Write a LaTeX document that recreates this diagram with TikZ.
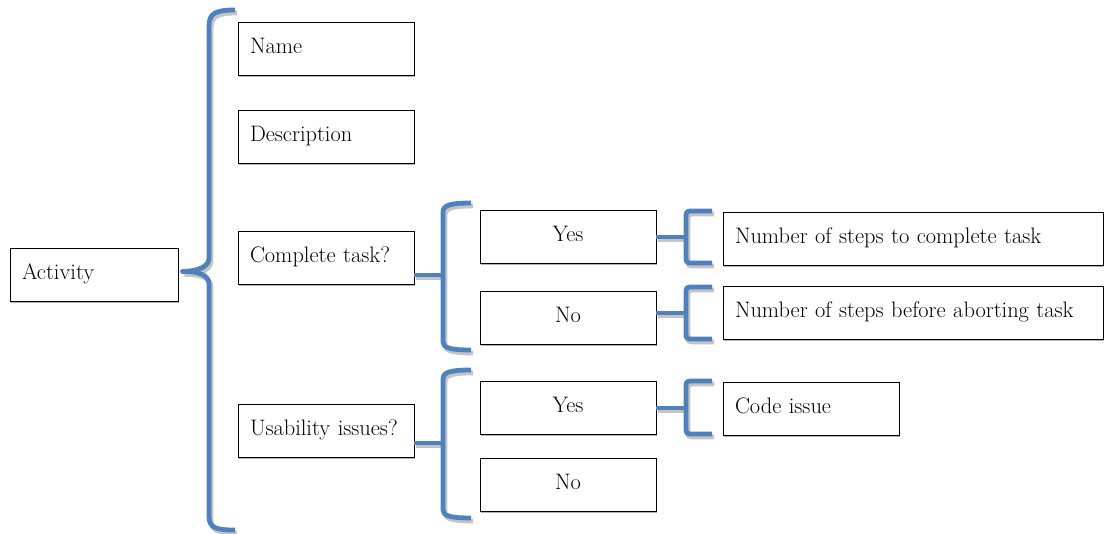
\documentclass[tikz,border=0pt]{standalone}
\usetikzlibrary{shadows}
\definecolor{bblue}{RGB}{79,129,189}
\definecolor{bshadow}{RGB}{196,196,196}
\begin{document}
\begin{tikzpicture}[x=1pt,y=-1pt,
  box/.style={draw, fill=white, line width=0.9pt, minimum height=53pt, inner ysep=0pt,
    font=\fontsize{22.4}{26}\selectfont, text height=14pt, text depth=4.5pt,
    drop shadow={shadow xshift=1pt, shadow yshift=-1.5pt, fill=black!30, opacity=1}},
  lbox/.style={box, inner xsep=12pt, align=left},
  cbox/.style={box, inner xsep=0pt, minimum width=176pt, align=center},
  brace/.style={draw=bblue, line width=4.8pt, line cap=butt, line join=round,
    preaction={draw=bshadow, line width=4.8pt, transform canvas={shift={(2pt,-3pt)}}}}
]
\useasboundingbox (0,0) rectangle (1105,533);
% boxes
\node[lbox, text width=144pt] (act) at (94,274.5) {Activity};
\node[lbox, text width=152pt] (name) at (326,48.5) {Name};
\node[lbox, text width=152pt] (desc) at (326,137) {Description};
\node[lbox, text width=152pt] (ct) at (326,257.5) {Complete task?};
\node[lbox, text width=152pt] (ui) at (326,430.5) {Usability issues?};
\node[cbox] (yes1) at (568,236.5) {Yes};
\node[cbox] (no1) at (568,317.5) {No};
\node[cbox] (yes2) at (568,408) {Yes};
\node[cbox] (no2) at (568,484.5) {No};
\node[lbox, text width=356pt] (nsc) at (913,238.5) {Number of steps to complete task};
\node[lbox, text width=356pt] (nsa) at (913,312.5) {Number of steps before aborting task};
\node[lbox, text width=152pt] (code) at (811,408.5) {Code issue};
% big brace
\path[brace] (act.east) ++(4,-3) coordinate (tip)
  (235,10) .. controls (216,10) and (209,13) .. (209,26) -- (209,258)
  .. controls (209,266) and (200,271) .. (tip)
  .. controls (200,271) and (209,276) .. (209,284) -- (209,516)
  .. controls (209,528) and (216,530) .. (235,530);
% complete task brace
\coordinate (b2) at (443,275);
\path[brace] (ct.east |- b2) -- (b2);
\path[brace] (471,203) .. controls (451,203) and (443,205) .. (443,212) -- (443,342)
  .. controls (443,348) and (451,350) .. (471,350);
% usability brace
\coordinate (b3) at (443,443);
\path[brace] (ui.east |- b3) -- (b3);
\path[brace] (471,370) .. controls (451,370) and (443,372) .. (443,379) -- (443,510)
  .. controls (443,516) and (451,518) .. (471,518);
% small brackets
\coordinate (s1) at (686,237);
\path[brace] (yes1.east |- s1) -- (s1);
\path[brace] (712,211) -- (690,211) .. controls (687,211) and (686,212) .. (686,215) -- (686,259)
  .. controls (686,262) and (687,263) .. (690,263) -- (712,263);
\coordinate (s2) at (686,313);
\path[brace] (no1.east |- s2) -- (s2);
\path[brace] (712,287) -- (690,287) .. controls (687,287) and (686,288) .. (686,291) -- (686,335)
  .. controls (686,338) and (687,339) .. (690,339) -- (712,339);
\coordinate (s3) at (686,408);
\path[brace] (yes2.east |- s3) -- (s3);
\path[brace] (712,381) -- (690,381) .. controls (687,381) and (686,382) .. (686,385) -- (686,430)
  .. controls (686,433) and (687,434) .. (690,434) -- (712,434);
\end{tikzpicture}
\end{document}
